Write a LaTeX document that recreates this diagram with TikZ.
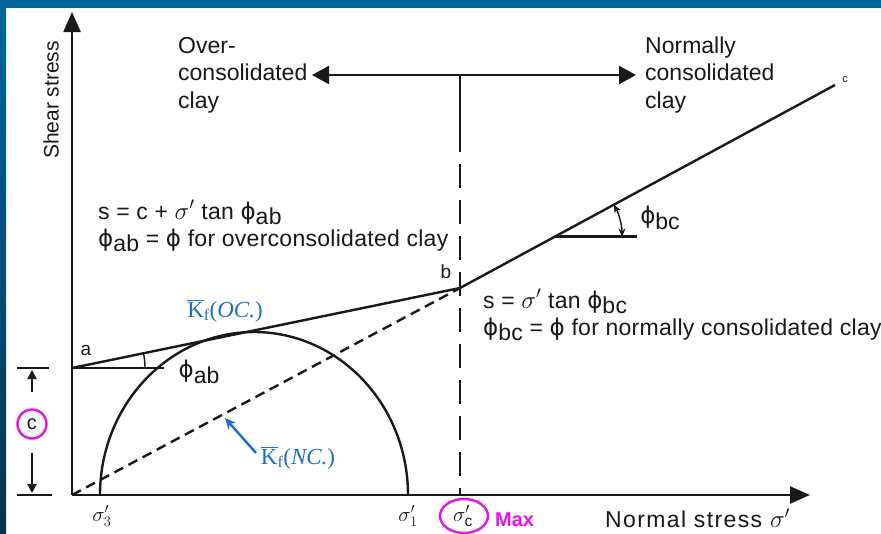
\documentclass[tikz,border=0pt]{standalone}
\usepackage{fontspec}
\setmainfont{Liberation Sans}
\newfontfamily\kfont{Liberation Serif}
\newfontfamily\phfont{DejaVu Sans}
\usetikzlibrary{arrows.meta}
\definecolor{frameblue}{RGB}{0,103,155}
\definecolor{framedark}{RGB}{6,50,76}
\definecolor{kblue}{RGB}{30,110,200}
\definecolor{mag}{RGB}{228,20,228}
\definecolor{ink}{RGB}{25,25,25}
\newcommand\lsub[1]{\raisebox{-0.25em}{#1}}
\newcommand\ph{{\phfont ϕ}}
\newcommand\wide[1]{\addfontfeature{LetterSpace=#1}}
\newcommand\kf[1]{{\kfont$\overline{\hbox{K}}$\textsubscript{f}(\textit{#1})}}
\begin{document}
\begin{tikzpicture}[x=1pt,y=-1pt,
  ln/.style={line width=2.4pt,draw=ink},
  txt/.style={inner sep=0pt,text=ink,font=\fontsize{23}{27.5}\selectfont,anchor=west,align=left},
  eqtxt/.style={txt,font=\fontsize{23}{27}\selectfont\wide{1.2}},
  bigtip/.style={-{Triangle[length=20pt,width=17pt]}},
  smalltip/.style={-{Triangle[length=9pt,width=9pt]}},
  kbl/.style={inner sep=0pt,text=kblue,font=\fontsize{23}{26}\selectfont},
  magring/.style={draw=mag,line width=2.4pt}]
\useasboundingbox (0,0) rectangle (881,533);
% frame
\fill[white] (0,0) rectangle (881,533);
\shade[top color=frameblue,bottom color=framedark] (0,0) rectangle (6,533);
\fill[frameblue] (0,0) rectangle (881,8);
% key points
\coordinate (O) at (72,495);
\coordinate (Ytop) at (72,12);
\coordinate (Xend) at (810,495);
\coordinate (A) at (72,368);
\coordinate (B) at (460,288);
\coordinate (C) at (835,85);
\coordinate (S3) at (100,495);
\coordinate (Vtop) at (460,75);
\coordinate (Vmid) at (460,128);
\coordinate (Vbot) at (460,495);
\coordinate (DL) at (312,75);
\coordinate (DR) at (636,75);
% axes
\draw[ln,bigtip] (O) -- (Ytop);
\draw[ln,bigtip] (O) -- (Xend);
% vertical divider
\draw[ln] (Vtop) -- (Vmid);
\draw[ln,dash pattern=on 24pt off 12pt] (Vmid) -- (Vbot);
% double arrow
\draw[ln,{Triangle[length=17pt,width=18pt]}-{Triangle[length=17pt,width=18pt]}] (DL) -- (DR);
% envelope
\draw[ln] (A) -- (B) -- (C);
\draw[ln,dash pattern=on 10pt off 6pt] (O) -- (B);
% Mohr circle
\draw[ln] (S3) arc[start angle=180,end angle=360,x radius=154,y radius=163];
% angle ab
\coordinate (Ah) at (164,368);
\draw[line width=1.6pt,draw=ink] (A) -- (Ah);
\draw[line width=1.4pt,draw=ink] (A) ++(73,0) arc[start angle=0,end angle=-11.65,radius=73];
% angle bc
\coordinate (V2) at (555,236.6);
\coordinate (V2h) at (637,236.6);
\draw[ln] (V2) -- (V2h);
\draw[line width=1.4pt,draw=ink,{Stealth[length=8pt,width=7pt]}-{Stealth[length=8pt,width=7pt]}] (V2) ++(67,0) arc[start angle=0,end angle=-28.4,radius=67];
% c dimension
\coordinate (T1a) at (17,368); \coordinate (T1b) at (49,368);
\coordinate (T2a) at (17,495); \coordinate (T2b) at (52,495);
\coordinate (UA1) at (32,392); \coordinate (UA2) at (32,370);
\coordinate (DA1) at (32,453); \coordinate (DA2) at (32,493);
\draw[ln] (T1a) -- (T1b);
\draw[ln] (T2a) -- (T2b);
\draw[ln,smalltip] (UA1) -- (UA2);
\draw[ln,smalltip] (DA1) -- (DA2);
\node[magring,circle,minimum size=29pt,inner sep=0pt,text=ink,font=\fontsize{20}{24}\selectfont] (cc) at (32,424) {c};
% blue arrow
\coordinate (KA) at (256,453);
\coordinate (KB) at (225,418);
\draw[line width=2.4pt,draw=kblue,-{Stealth[length=11pt,width=10pt]}] (KA) -- (KB);
% texts
\node[txt,rotate=90,anchor=center,font=\fontsize{21}{24}\selectfont] (ys) at (51,100) {Shear stress};
\node[txt] (oc) at (178,75) {Over-\\consolidated\\clay};
\node[txt] (nc) at (645,75) {Normally\\consolidated\\clay};
\node[eqtxt,anchor=base west] (eq1a) at (98,219) {s = c + $\sigma'$ tan \ph\lsub{ab}};
\node[eqtxt,anchor=base west] (eq1b) at (98,246) {\ph\lsub{ab} = \ph{} for overconsolidated clay};
\node[eqtxt,anchor=base west] (eq2a) at (483,308) {s = $\sigma'$ tan \ph\lsub{bc}};
\node[eqtxt,anchor=base west] (eq2b) at (483,335) {\ph\lsub{bc} = \ph{} for normally consolidated clay};
\node[txt,anchor=center,font=\fontsize{19}{22}\selectfont] (la) at (86,350) {a};
\node[txt,anchor=center,font=\fontsize{19}{22}\selectfont] (lb) at (446,272) {b};
\node[txt,anchor=center,font=\fontsize{11}{13}\selectfont] (lc) at (845,80) {c};
\node[txt,anchor=center] (pab) at (199,372) {\ph\lsub{ab}};
\node[txt,anchor=center] (pbc) at (660,218) {\ph\lsub{bc}};
\node[txt,anchor=center,font=\fontsize{22}{26}\selectfont] (s3) at (102,516) {$\sigma'_3$};
\node[txt,anchor=center,font=\fontsize{22}{26}\selectfont] (s1) at (408,516) {$\sigma'_1$};
\node[txt,anchor=center,font=\fontsize{22}{26}\selectfont] (sc) at (463,516) {$\sigma'_{\mathrm{c}}$};
\draw[magring] (464,516) ellipse[x radius=24,y radius=17];
\node[txt,text=mag,font=\bfseries\fontsize{20}{24}\selectfont] (mx) at (495,520) {Max};
\node[txt,font=\fontsize{23}{26}\selectfont\wide{6}] (ns) at (605,518) {Normal stress $\sigma'$};
\node[kbl] (koc) at (225,311) {\kf{OC.}};
\node[kbl] (knc) at (298,458) {\kf{NC.}};
\end{tikzpicture}
\end{document}
